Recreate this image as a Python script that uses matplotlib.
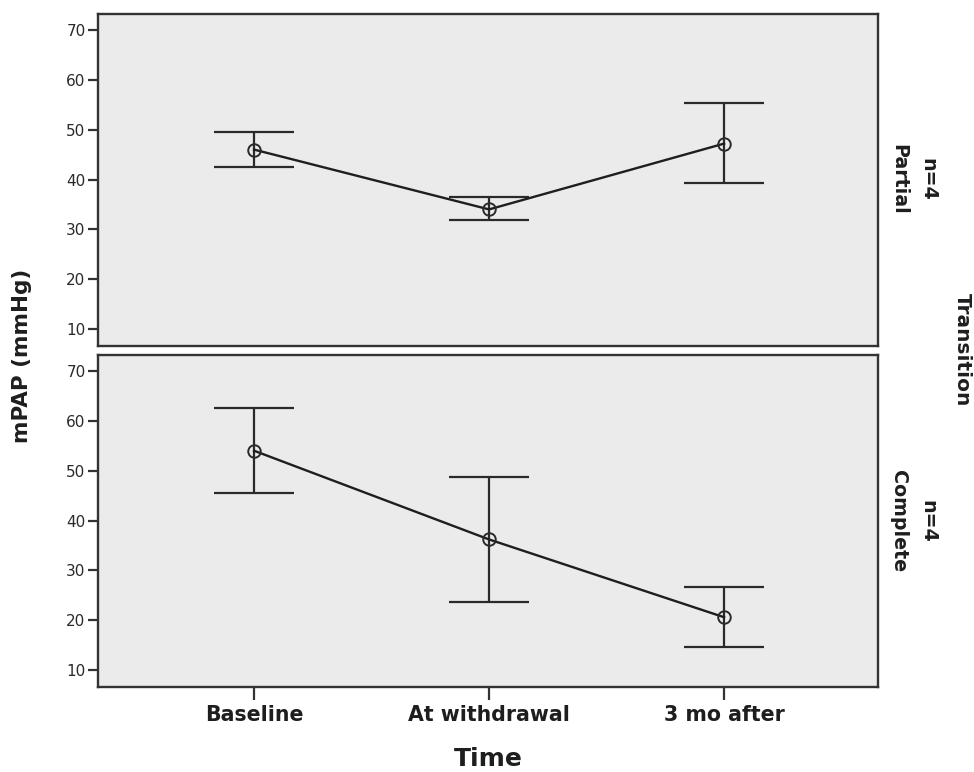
import matplotlib
matplotlib.use("Agg")
import matplotlib.pyplot as plt
import numpy as np

plt.rcParams['font.family'] = ['DejaVu Sans']

categories = ["Baseline", "At withdrawal", "3 mo after"]
panels = ["Partial", "Complete"]
n_labels = ["n=4", "n=4"]
means = {"Partial": [46.0, 34.0, 47.2], "Complete": [54.0, 36.2, 20.6]}
upper = {"Partial": [49.6, 36.4, 55.4], "Complete": [62.6, 48.8, 26.6]}
lower = {"Partial": [42.6, 31.8, 39.2], "Complete": [45.6, 23.6, 14.6]}
yticks = [10, 20, 30, 40, 50, 60, 70]

fig = plt.figure(figsize=(9.74, 7.72), dpi=100)
W, H = 974, 772
def ax_rect(l, t, r, b):
    return [l / W, 1 - b / H, (r - l) / W, (b - t) / H]
def fx(px): return px / W
def fy(py): return 1 - py / H

rects = [ax_rect(98, 14, 878, 346), ax_rect(98, 355, 878, 687)]
centers_y = [179, 521]
edge = "#333333"
txt = "#1e1e1e"
x = np.arange(len(categories))
for i, (name, rect) in enumerate(zip(panels, rects)):
    ax = fig.add_axes(rect)
    ax.set_facecolor("#ebebeb")
    m = np.array(means[name]); u = np.array(upper[name]); lo = np.array(lower[name])
    ax.errorbar(x, m, yerr=[m - lo, u - m], fmt='none', ecolor="#2a2a2a",
                elinewidth=1.6, capsize=29, capthick=1.6, zorder=2)
    ax.plot(x, m, color="#1e1e1e", lw=1.7, zorder=3)
    ax.plot(x, m, 'o', ms=9, mfc='none', mec="#2a2a2a", mew=1.4, zorder=4)
    ax.set_xlim(-0.664, 2.655)
    ax.set_ylim(6.6, 73.2)
    ax.set_yticks(yticks)
    ax.set_yticklabels([str(t) for t in yticks], fontsize=11, color="#2a2a2a")
    ax.tick_params(axis='y', length=7, width=1.6, color=edge, pad=2)
    for s in ax.spines.values():
        s.set_color(edge); s.set_linewidth(1.7)
    fig.text(fx(899), fy(centers_y[i]), name, rotation=-90, ha='center', va='center',
             fontsize=13.7, fontweight='bold', color=txt)
    fig.text(fx(928), fy(centers_y[i]), n_labels[i], rotation=-90, ha='center', va='center',
             fontsize=13.7, fontweight='bold', color=txt)
    if i == 0:
        ax.set_xticks([])
    else:
        ax.set_xticks(x)
        ax.set_xticklabels(categories, fontsize=14.8, fontweight='bold', color=txt)
        ax.tick_params(axis='x', length=9, width=1.6, color=edge, pad=4)

fig.text(fx(488), fy(766), "Time", ha='center', va='baseline',
         fontsize=18, fontweight='bold', color=txt)
fig.text(fx(22), fy(356), "mPAP (mmHg)", rotation=90, ha='center', va='center',
         fontsize=15.5, fontweight='bold', color=txt)
fig.text(fx(962), fy(350), "Transition", rotation=-90, ha='center', va='center',
         fontsize=14.5, fontweight='bold', color=txt)

fig.savefig("out.png", dpi=100)
